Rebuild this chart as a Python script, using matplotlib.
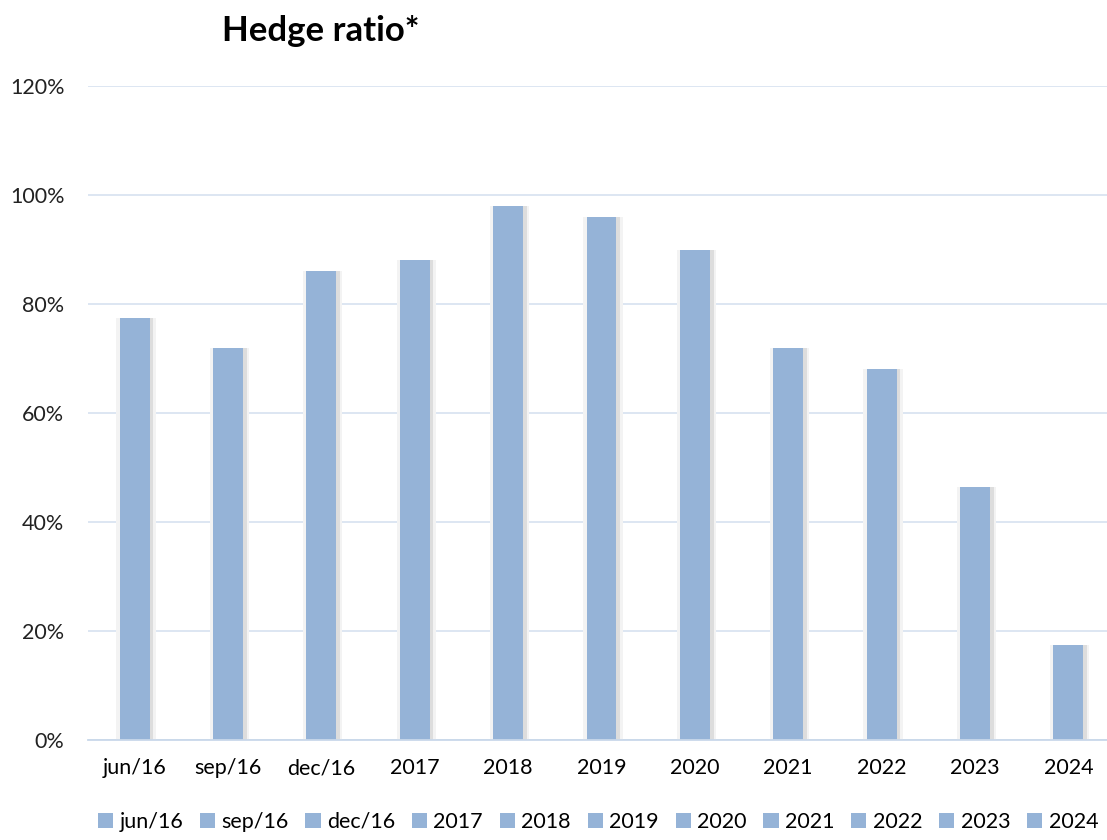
import matplotlib.pyplot as plt
from matplotlib.patches import Patch
import numpy as np

# Data
categories = ["jun/16", "sep/16", "dec/16", "2017", "2018", "2019",
              "2020", "2021", "2022", "2023", "2024"]
hedge_ratio = [77.5, 72, 86, 88, 98, 96, 90, 72, 68, 46.5, 17.5]
y_ticks = [0, 20, 40, 60, 80, 100, 120]

BAR_COLOR = "#95b3d7"
GRID_COLOR = "#dae4f1"

plt.rcParams["font.family"] = ["Lato", "DejaVu Sans"]

fig = plt.figure(figsize=(11.07, 8.4), dpi=100)
ax = fig.add_axes([88 / 1107, 1 - 740 / 840, 1027 / 1107, (740 - 86) / 840])

x = np.arange(len(categories))
width = 0.32

# soft shadow behind each bar
ax.bar(x + 0.015, hedge_ratio, width=width + 0.10, color="#f3f3f3", zorder=2)
ax.bar(x + 0.03, hedge_ratio, width=width + 0.02, color="#dddddd", zorder=2)
ax.bar(x, hedge_ratio, width=width, color=BAR_COLOR, zorder=3)

ax.set_xlim(-0.5, len(categories) - 0.5)
ax.set_ylim(0, 120)
ax.set_yticks(y_ticks)
ax.set_yticklabels([f"{t}%" for t in y_ticks])
ax.set_xticks(x)
ax.set_xticklabels(categories)
ax.tick_params(axis="both", length=0, labelsize=15.5, colors="#000000")
ax.tick_params(axis="x", pad=13)
ax.tick_params(axis="y", pad=17)
for lbl in ax.get_yticklabels():
    lbl.set_color("#222222")

ax.grid(axis="y", color=GRID_COLOR, linewidth=1.3, zorder=0)
for side in ["top", "right", "left"]:
    ax.spines[side].set_visible(False)
ax.spines["bottom"].set_color("#c9d8ea")
ax.spines["bottom"].set_linewidth(1.3)
ax.spines["bottom"].set_zorder(4)

fig.text(321 / 1107, 1 - 31 / 840, "Hedge ratio*", fontsize=25, fontweight="bold",
         ha="center", va="center")

handles = [Patch(facecolor=BAR_COLOR, label=c) for c in categories]
fig.legend(handles=handles, loc="center", bbox_to_anchor=(598 / 1107, 1 - 822 / 840),
           ncol=len(categories), frameon=False, fontsize=15.5, handlelength=0.7,
           handleheight=0.7, handletextpad=0.3, columnspacing=0.78, borderpad=0)

fig.savefig("out.png", dpi=100)
